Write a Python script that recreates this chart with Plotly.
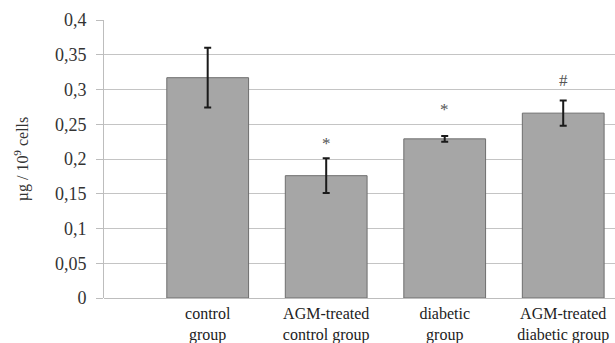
import plotly.graph_objects as go

categories = ["control<br>group", "AGM-treated<br>control group", "diabetic<br>group", "AGM-treated<br>diabetic group"]
values = [0.317, 0.176, 0.229, 0.266]
errors = [0.043, 0.025, 0.004, 0.018]
markers = ["", "*", "*", "#"]
marker_y = [None, 0.222, 0.271, 0.313]
y_ticks = [0, 0.05, 0.1, 0.15, 0.2, 0.25, 0.3, 0.35, 0.4]
y_tick_labels = ["0", "0,05", "0,1", "0,15", "0,2", "0,25", "0,3", "0,35", "0,4"]

font = "Liberation Serif, Times New Roman, serif"

fig = go.Figure()
fig.add_trace(go.Bar(
    x=categories, y=values,
    marker=dict(color="#a6a6a6", line=dict(color="#6e6e6e", width=1)),
    width=0.69,
    error_y=dict(type="data", array=errors, visible=True, color="#1a1a1a", thickness=2, width=3.5),
))

for c, m, my in zip(categories, markers, marker_y):
    if m:
        fig.add_annotation(x=c, y=my, text=m, showarrow=False,
                           font=dict(family=font, size=17, color="#555555"))

fig.update_layout(
    width=615, height=343,
    margin=dict(l=104, r=0, t=20, b=45),
    paper_bgcolor="white", plot_bgcolor="white",
    showlegend=False,
    font=dict(family=font, size=16, color="#333333"),
    xaxis=dict(range=[-0.875, 3.437], showgrid=False, ticks="", showline=False,
               ticklabelstandoff=4,
               tickfont=dict(family=font, size=16, color="#222222"), fixedrange=True),
    yaxis=dict(range=[0, 0.4], tickvals=y_ticks, ticktext=y_tick_labels,
               showgrid=True, gridcolor="#c4c4c4", gridwidth=1,
               showline=True, linecolor="#bdbdbd", linewidth=1,
               ticks="outside", ticklen=7, tickcolor="#bdbdbd",
               ticklabelstandoff=6,
               tickfont=dict(family=font, size=18, color="#333333"),
               zeroline=True, zerolinecolor="#bdbdbd", zerolinewidth=1,
               title=dict(text="µg / 10<sup>9</sup> cells", font=dict(family=font, size=16, color="#333333"), standoff=22)),
)

fig.write_html("out.html", config={"displayModeBar": False},
               post_script="document.body.style.margin='0';document.body.style.padding='0';")
